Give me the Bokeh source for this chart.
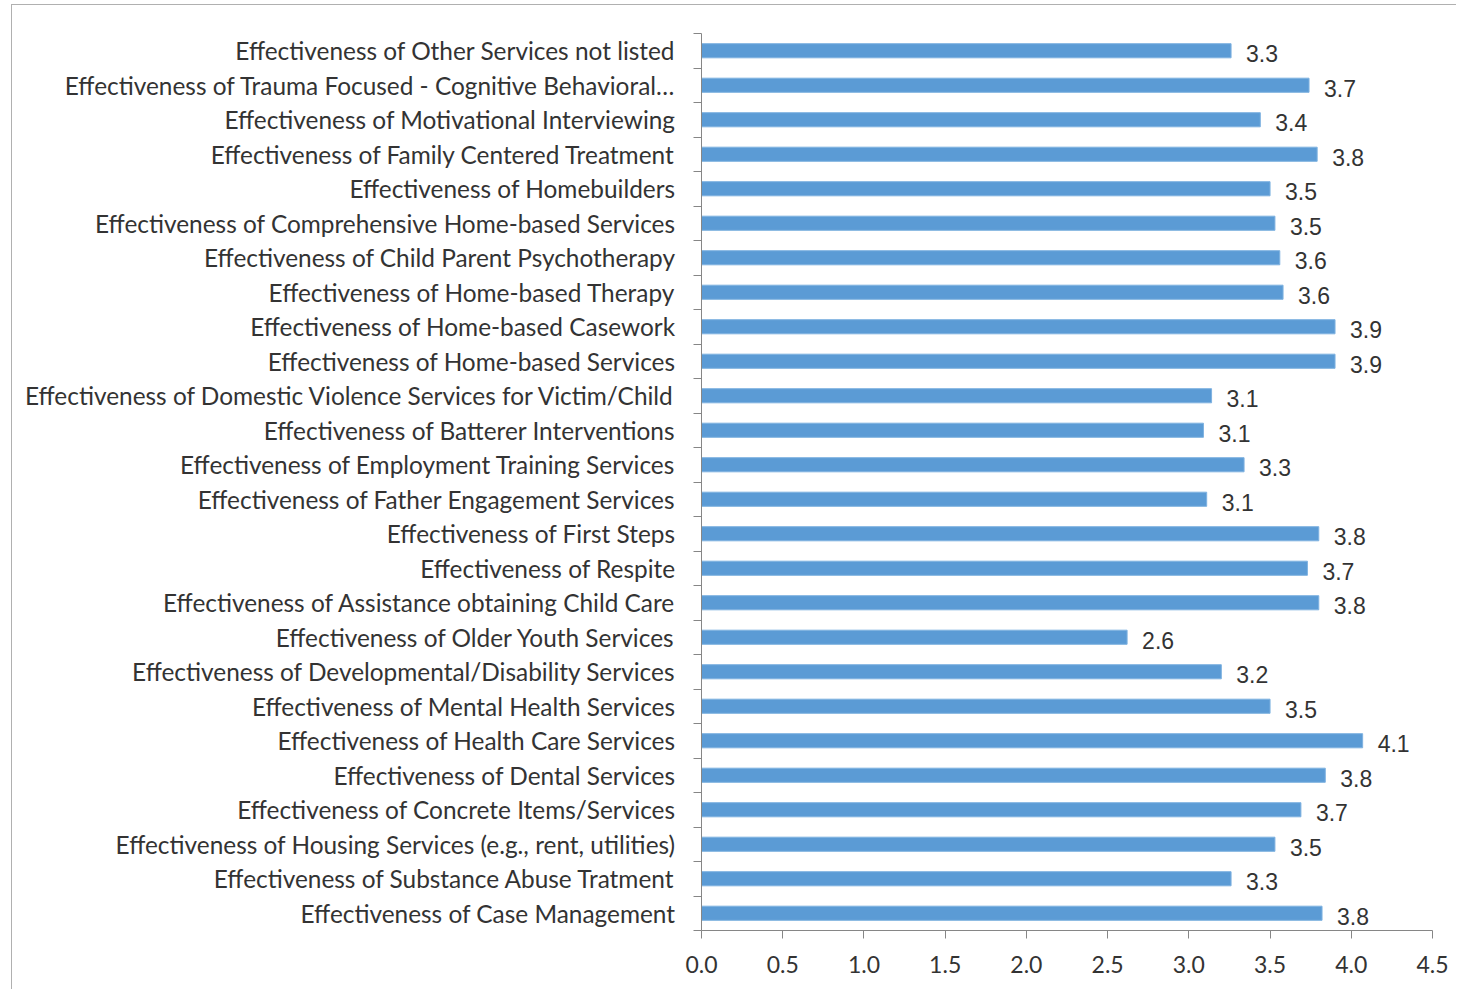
from bokeh.plotting import figure
from bokeh.models import Range1d, FixedTicker, NumeralTickFormatter, ColumnDataSource
from bokeh.embed import file_html
from bokeh.resources import INLINE

# Data listed bottom to top (Excel order)
categories = [
    "Effectiveness of Case Management",
    "Effectiveness of Substance Abuse Tratment",
    "Effectiveness of Housing Services (e.g., rent, utilities)",
    "Effectiveness of Concrete Items/Services",
    "Effectiveness of Dental Services",
    "Effectiveness of Health Care Services",
    "Effectiveness of Mental Health Services",
    "Effectiveness of Developmental/Disability Services",
    "Effectiveness of Older Youth Services",
    "Effectiveness of Assistance obtaining Child Care",
    "Effectiveness of Respite",
    "Effectiveness of First Steps",
    "Effectiveness of Father Engagement Services",
    "Effectiveness of Employment Training Services",
    "Effectiveness of Batterer Interventions",
    "Effectiveness of Domestic Violence Services for Victim/Child",
    "Effectiveness of Home-based Services",
    "Effectiveness of Home-based Casework",
    "Effectiveness of Home-based Therapy",
    "Effectiveness of Child Parent Psychotherapy",
    "Effectiveness of Comprehensive Home-based Services",
    "Effectiveness of Homebuilders",
    "Effectiveness of Family Centered Treatment",
    "Effectiveness of Motivational Interviewing",
    "Effectiveness of Trauma Focused - Cognitive Behavioral\u2026",
    "Effectiveness of Other Services not listed",
]
values = [3.82, 3.26, 3.53, 3.69, 3.84, 4.07, 3.50, 3.20, 2.62, 3.80,
          3.73, 3.80, 3.11, 3.34, 3.09, 3.14, 3.90, 3.90, 3.58, 3.56,
          3.53, 3.50, 3.79, 3.44, 3.74, 3.26]
value_labels = ["3.8", "3.3", "3.5", "3.7", "3.8", "4.1", "3.5", "3.2", "2.6", "3.8",
                "3.7", "3.8", "3.1", "3.3", "3.1", "3.1", "3.9", "3.9", "3.6", "3.6",
                "3.5", "3.5", "3.8", "3.4", "3.7", "3.3"]
x_ticks = [0.0, 0.5, 1.0, 1.5, 2.0, 2.5, 3.0, 3.5, 4.0, 4.5]

positions = list(range(1, len(categories) + 1))

src = ColumnDataSource(dict(y=positions, v=values, lab=value_labels))

FONT = "Lato"
TXT = "#333333"
AX = "#868686"

p = figure(width=1445, height=985, output_backend="svg", toolbar_location=None,
           x_range=Range1d(0, 4.5), y_range=Range1d(0.5, len(categories) + 0.5),
           min_border_left=689, min_border_right=25, min_border_top=28, min_border_bottom=60)
p.outline_line_color = None
p.xgrid.visible = False
p.ygrid.visible = False

p.hbar(y="y", right="v", left=0, height=0.41, source=src,
       fill_color="#5B9BD5", line_color="#7FB2E0", line_width=1)
p.text(x="v", y="y", text="lab", source=src, x_offset=15, y_offset=3,
       text_baseline="middle", text_align="left",
       text_font_size="23px", text_color=TXT)

# y axis
yax = p.yaxis[0]
yax.ticker = FixedTicker(ticks=positions, minor_ticks=[k + 0.5 for k in range(0, len(categories) + 1)])
yax.major_label_overrides = {k: c for k, c in zip(positions, categories)}
yax.major_tick_out = 0
yax.major_tick_in = 0
yax.minor_tick_out = 8
yax.minor_tick_in = 0
yax.minor_tick_line_color = AX
yax.axis_line_color = AX
yax.major_label_standoff = 18
yax.major_label_text_font = FONT
yax.major_label_text_font_size = "24.4px"
yax.major_label_text_color = TXT

# x axis
xax = p.xaxis[0]
xax.ticker = FixedTicker(ticks=x_ticks)
xax.formatter = NumeralTickFormatter(format="0.0")
xax.major_tick_out = 8
xax.major_tick_in = 0
xax.minor_tick_out = 0
xax.minor_tick_in = 0
xax.major_tick_line_color = AX
xax.axis_line_color = AX
xax.major_label_standoff = 17
xax.major_label_text_font = FONT
xax.major_label_text_font_size = "23px"
xax.major_label_text_color = TXT

p.styles = {"border-top": "1px solid #B0B0B0", "border-left": "1px solid #B0B0B0",
            "margin-left": "11px", "margin-top": "4px"}

open("out.html", "w").write(file_html(p, INLINE))
